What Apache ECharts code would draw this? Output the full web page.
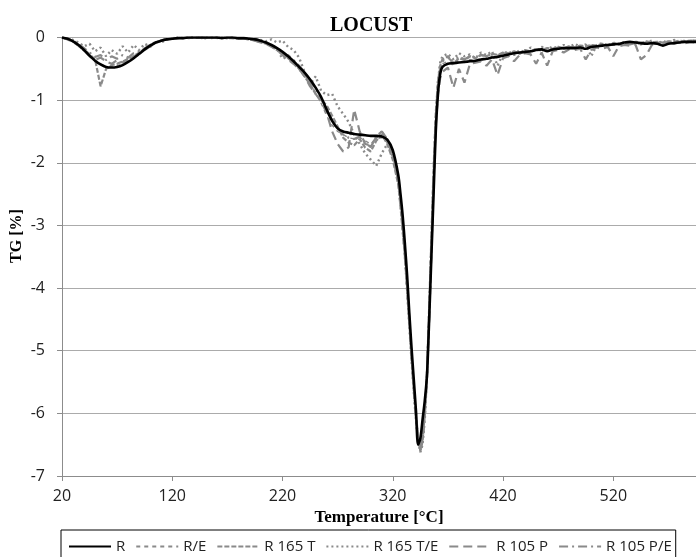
<!DOCTYPE html>
<html>
<head>
<meta charset="utf-8">
<script src="https://cdn.jsdelivr.net/npm/echarts@6/dist/echarts.min.js"></script>
<style>html,body{margin:0;padding:0;background:#fff}#c{width:696px;height:557px}</style>
</head>
<body>
<div id="c"></div>
<script>
// Temperature [°C]
var temps = [
  20,25,30,35,40,45,50,55,60,65,70,75,80,85,90,95,100,105,110,115,120,125,
  130,135,140,145,150,155,160,165,170,175,180,185,190,195,200,205,210,215,220,225,
  230,235,240,245,250,255,260,265,270,275,280,285,290,295,300,305,310,315,320,325,
  327,329,331,333,335,337,339,341,343,345,347,349,351,353,355,357,359,361,363,
  365,370,375,380,385,390,395,400,405,410,415,420,425,430,435,440,445,450,455,460,
  465,470,475,480,485,490,495,500,505,510,515,520,525,530,535,540,545,550,555,560,565,570,575,580,585,590,595
];
var seriesNames = ['R','R/E','R 165 T','R 165 T/E','R 105 P','R 105 P/E'];
var xTicks = [20,120,220,320,420,520];
var yTicks = [0,-1,-2,-3,-4,-5,-6,-7];

var valR = [
  0,-0.02,-0.06,-0.12,-0.2,-0.29,-0.37,-0.43,-0.47,-0.48,-0.47,-0.44,-0.39,-0.33,-0.26,-0.19,-0.13,-0.08,-0.05,-0.03,-0.02,-0.01,
  -0.01,0,0,0,0,0,0,-0.01,0,0,-0.01,-0.01,-0.02,-0.03,-0.05,-0.08,-0.12,-0.17,-0.23,-0.3,
  -0.38,-0.47,-0.56,-0.67,-0.8,-0.95,-1.15,-1.33,-1.45,-1.5,-1.52,-1.54,-1.55,-1.56,-1.57,-1.57,-1.58,-1.63,-1.8,-2.2,
  -2.5,-2.85,-3.3,-3.8,-4.4,-4.95,-5.45,-5.95,-6.5,-6.4,-6.1,-5.8,-5.4,-4.5,-3.5,-2.5,-1.5,-0.9,-0.58,
  -0.47,-0.42,-0.41,-0.4,-0.39,-0.38,-0.37,-0.35,-0.34,-0.32,-0.31,-0.29,-0.27,-0.25,-0.24,-0.23,-0.22,-0.2,-0.19,-0.22,
  -0.19,-0.18,-0.17,-0.17,-0.17,-0.16,-0.18,-0.15,-0.14,-0.13,-0.12,-0.11,-0.1,-0.08,-0.07,-0.08,-0.09,-0.1,-0.09,-0.1,-0.13,-0.1,-0.09,-0.08,-0.07,-0.07,-0.07
];
var valRE = [
  0,-0.03,-0.07,-0.14,-0.22,-0.3,-0.38,-0.42,-0.46,-0.47,-0.45,-0.42,-0.38,-0.33,-0.27,-0.2,-0.14,-0.09,-0.05,-0.03,-0.02,-0.01,
  -0.01,0,0,-0.01,0,0,0,-0.01,-0.01,0,-0.01,-0.02,-0.03,-0.04,-0.06,-0.09,-0.13,-0.18,-0.25,-0.33,
  -0.42,-0.5,-0.6,-0.72,-0.88,-1.05,-1.25,-1.4,-1.5,-1.55,-1.6,-1.62,-1.6,-1.65,-1.7,-1.62,-1.6,-1.68,-1.85,-2.25,
  -2.6,-3.0,-3.45,-3.9,-4.5,-5.0,-5.5,-6.0,-6.4,-6.55,-6.3,-5.9,-5.3,-4.4,-3.3,-2.3,-1.4,-0.8,-0.52,
  -0.42,-0.38,-0.45,-0.36,-0.4,-0.35,-0.38,-0.33,-0.35,-0.3,-0.33,-0.28,-0.3,-0.25,-0.27,-0.22,-0.25,-0.2,-0.22,-0.18,
  -0.2,-0.16,-0.19,-0.15,-0.17,-0.14,-0.16,-0.13,-0.15,-0.12,-0.13,-0.1,-0.12,-0.09,-0.1,-0.08,-0.1,-0.07,-0.09,-0.08,-0.1,-0.07,-0.08,-0.06,-0.07,-0.06,-0.06
];
var valR165T = [
  0,-0.02,-0.06,-0.12,-0.19,-0.27,-0.35,-0.78,-0.5,-0.44,-0.42,-0.38,-0.35,-0.3,-0.24,-0.18,-0.12,-0.08,-0.05,-0.03,-0.02,-0.01,
  0,-0.01,0,0,-0.01,0,0,0,-0.01,-0.01,-0.02,-0.02,-0.03,-0.05,-0.07,-0.1,-0.14,-0.2,-0.26,-0.33,
  -0.4,-0.5,-0.62,-0.75,-0.9,-1.0,-1.08,-1.25,-1.42,-1.6,-1.68,-1.72,-1.62,-1.76,-1.82,-1.65,-1.55,-1.7,-1.95,-2.35,
  -2.7,-3.1,-3.5,-4.0,-4.55,-5.1,-5.6,-6.05,-6.4,-6.6,-6.45,-6.0,-5.35,-4.3,-3.2,-2.1,-1.2,-0.7,-0.45,
  -0.35,-0.3,-0.42,-0.33,-0.36,-0.3,-0.33,-0.28,-0.3,-0.26,-0.28,-0.24,-0.25,-0.22,-0.26,-0.2,-0.22,-0.18,-0.2,-0.17,
  -0.18,-0.15,-0.17,-0.14,-0.16,-0.13,-0.14,-0.12,-0.13,-0.1,-0.12,-0.09,-0.11,-0.08,-0.09,-0.07,-0.09,-0.06,-0.08,-0.07,-0.08,-0.06,-0.07,-0.05,-0.06,-0.05,-0.05
];
var valR165TE = [
  0,-0.02,-0.04,-0.08,-0.14,-0.1,-0.22,-0.16,-0.3,-0.2,-0.26,-0.14,-0.24,-0.12,-0.2,-0.1,-0.15,-0.06,-0.08,-0.03,-0.02,0,
  -0.01,0,0,-0.01,0,-0.01,0,0,-0.01,0,-0.02,-0.01,-0.03,-0.02,-0.04,-0.06,-0.03,-0.08,-0.05,-0.15,
  -0.2,-0.32,-0.55,-0.75,-0.62,-0.85,-0.92,-0.9,-1.1,-1.22,-1.35,-1.55,-1.7,-1.85,-1.95,-2.05,-1.85,-1.7,-1.9,-2.3,
  -2.65,-3.05,-3.5,-4.05,-4.6,-5.15,-5.65,-6.1,-6.45,-6.62,-6.5,-6.1,-5.4,-4.4,-3.3,-2.2,-1.3,-0.7,-0.4,
  -0.3,-0.26,-0.35,-0.25,-0.3,-0.27,-0.33,-0.24,-0.28,-0.22,-0.45,-0.26,-0.22,-0.28,-0.2,-0.24,-0.16,-0.22,-0.15,-0.2,
  -0.14,-0.18,-0.12,-0.16,-0.1,-0.15,-0.11,-0.3,-0.12,-0.09,-0.13,-0.08,-0.12,-0.07,-0.1,-0.06,-0.11,-0.08,-0.05,-0.09,-0.06,-0.08,-0.04,-0.07,-0.05,-0.06,-0.04
];
var valR105P = [
  0,-0.03,-0.07,-0.13,-0.21,-0.3,-0.36,-0.32,-0.38,-0.42,-0.36,-0.4,-0.33,-0.3,-0.26,-0.2,-0.14,-0.09,-0.05,-0.03,-0.02,-0.01,
  0,0,-0.01,0,0,-0.01,0,0,0,-0.01,-0.01,-0.02,-0.03,-0.05,-0.08,-0.1,-0.15,-0.2,-0.28,-0.35,
  -0.42,-0.5,-0.62,-0.78,-0.9,-1.02,-1.2,-1.5,-1.7,-1.82,-1.75,-1.15,-1.5,-1.7,-1.72,-1.6,-1.5,-1.62,-1.85,-2.3,
  -2.6,-3.0,-3.4,-3.95,-4.5,-5.05,-5.55,-6.0,-6.38,-6.55,-6.4,-6.0,-5.4,-4.5,-3.4,-2.3,-1.4,-0.9,-0.65,
  -0.55,-0.48,-0.8,-0.5,-0.72,-0.42,-0.4,-0.38,-0.45,-0.35,-0.6,-0.33,-0.3,-0.38,-0.28,-0.25,-0.27,-0.42,-0.24,-0.45,
  -0.22,-0.2,-0.24,-0.19,-0.2,-0.18,-0.35,-0.2,-0.16,-0.18,-0.15,-0.3,-0.14,-0.12,-0.13,-0.11,-0.35,-0.28,-0.12,-0.1,-0.12,-0.09,-0.1,-0.08,-0.09,-0.07,-0.08
];
var valR105PE = [
  0,-0.02,-0.05,-0.1,-0.17,-0.24,-0.31,-0.28,-0.36,-0.3,-0.34,-0.28,-0.32,-0.25,-0.22,-0.17,-0.12,-0.08,-0.05,-0.03,-0.01,0,
  -0.01,0,0,0,-0.01,0,-0.01,0,0,-0.01,-0.02,-0.01,-0.02,-0.04,-0.06,-0.09,-0.12,-0.18,-0.35,-0.28,
  -0.36,-0.45,-0.55,-0.7,-0.82,-0.98,-1.15,-1.32,-1.45,-1.55,-1.6,-1.62,-1.58,-1.68,-1.75,-1.58,-1.5,-1.65,-1.9,-2.28,
  -2.62,-3.0,-3.45,-4.0,-4.55,-5.1,-5.6,-6.05,-6.4,-6.58,-6.42,-6.05,-5.45,-4.5,-3.4,-2.3,-1.35,-0.75,-0.48,
  -0.38,-0.32,-0.4,-0.3,-0.35,-0.3,-0.32,-0.28,-0.3,-0.27,-0.29,-0.25,-0.27,-0.23,-0.25,-0.21,-0.23,-0.19,-0.21,-0.18,
  -0.19,-0.16,-0.18,-0.15,-0.16,-0.14,-0.15,-0.13,-0.14,-0.12,-0.13,-0.11,-0.12,-0.1,-0.11,-0.09,-0.1,-0.08,-0.09,-0.08,-0.09,-0.07,-0.08,-0.06,-0.07,-0.06,-0.06
];

var allValues = [valR, valRE, valR165T, valR165TE, valR105P, valR105PE];
var GRAY = '#8a8a8a';
var styles = [
  {color:'#000000', width:2.6, type:'solid', z:5},
  {color:GRAY, width:1.3, type:[4,4], z:2},
  {color:GRAY, width:2.2, type:[5,2], z:2},
  {color:GRAY, width:2.4, type:[2,3], z:2},
  {color:GRAY, width:2.2, type:[9,5], z:2},
  {color:GRAY, width:2.2, type:[9,4,2,4], z:2}
];

function pairs(vals){ return temps.map(function(t,i){ return [t, vals[i]]; }); }

var series = seriesNames.map(function(name, k){
  var st = styles[k];
  return {
    name: name, type: 'line', data: pairs(allValues[k]),
    showSymbol: false, symbol: 'none', z: st.z,
    smooth: k === 0 ? 0.3 : false,
    color: st.color,
    lineStyle: {color: st.color, width: st.width, type: st.type},
    emphasis: {disabled: true}
  };
});

var chart = echarts.init(document.getElementById('c'), null, {renderer:'canvas'});
chart.setOption({
  animation: false,
  backgroundColor: '#ffffff',
  title: {
    text: 'LOCUST', left: 325, top: 11,
    textStyle: {fontFamily:'Liberation Serif', fontWeight:'bold', fontSize:20, color:'#000'}
  },
  grid: {left: 62, right: 0, top: 37.5, bottom: 81, containLabel: false},
  xAxis: {
    type: 'value', min: 20, max: 595, interval: 100,
    name: 'Temperature [°C]', nameLocation: 'middle', nameGap: 33,
    nameTextStyle: {fontFamily:'Liberation Serif', fontWeight:'bold', fontSize:17, color:'#000'},
    axisLine: {show: true, onZero: false, lineStyle: {color:'#8c8c8c', width:1}},
    axisTick: {show: true, inside: false, length: 5, lineStyle: {color:'#8c8c8c'}},
    axisLabel: {margin: 12, fontFamily:'Open Sans', fontSize:16, color:'#222', showMaxLabel: false,
      formatter: function(v){ return xTicks.indexOf(v) >= 0 ? String(v) : ''; }},
    splitLine: {show: false}
  },
  yAxis: {
    type: 'value', min: -7, max: 0, interval: 1,
    axisLine: {show: true, onZero: false, lineStyle: {color:'#8c8c8c', width:1}},
    axisTick: {show: true, inside: false, length: 5, lineStyle: {color:'#8c8c8c'}},
    axisLabel: {margin: 17, fontFamily:'Open Sans', fontSize:16, color:'#222',
      formatter: function(v){ return yTicks.indexOf(v) >= 0 ? String(v) : ''; }},
    splitLine: {show: true, lineStyle: {color:'#ababab', width:1}}
  },
  legend: {
    data: seriesNames, left: 61, top: 530,
    orient: 'horizontal',
    padding: [9, 4, 12, 7],
    itemWidth: 42, itemHeight: 14, itemGap: 10,
    borderColor: '#000', borderWidth: 1,
    itemStyle: {opacity: 0, borderWidth: 0},
    textStyle: {fontFamily:'Open Sans', fontSize:15, color:'#222'},
    selectedMode: false
  },
  graphic: [{
    type: 'text', x: 17, y: 236, rotation: Math.PI/2,
    style: {text: 'TG [%]', font: 'bold 16px "Liberation Serif"', fill:'#000', align:'center', verticalAlign:'middle'}
  }],
  series: series
});
</script>
</body>
</html>
